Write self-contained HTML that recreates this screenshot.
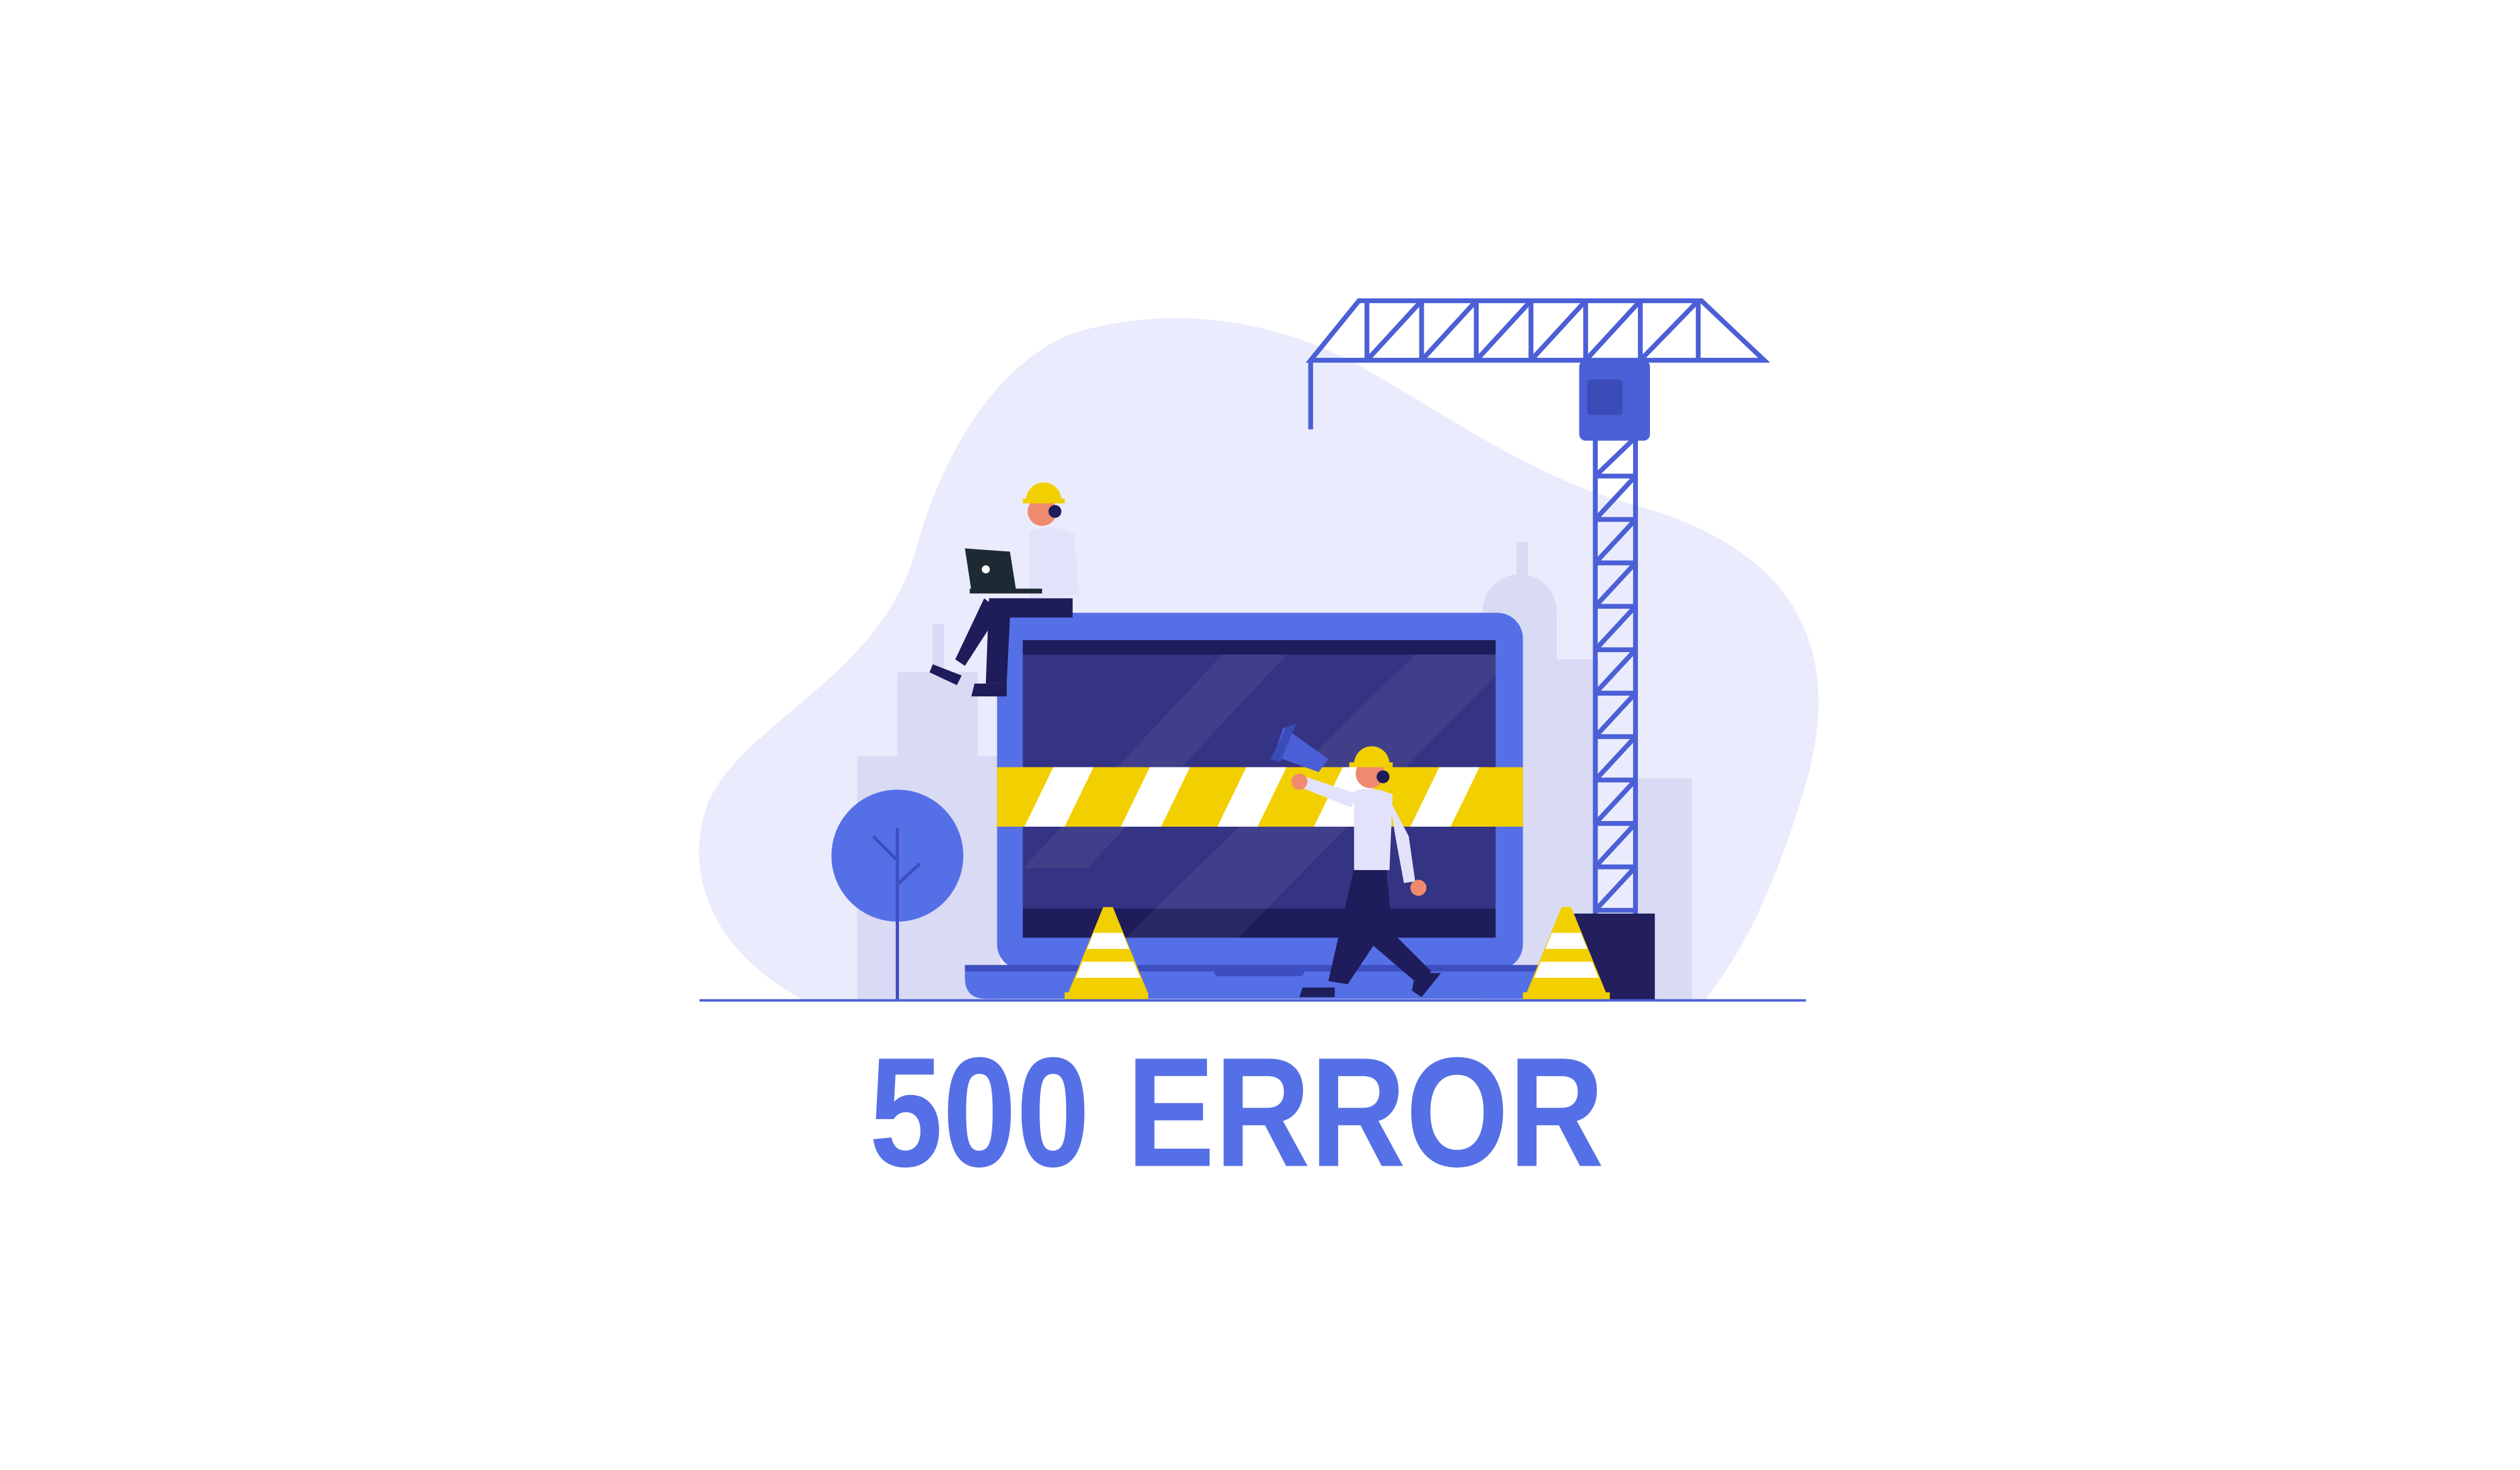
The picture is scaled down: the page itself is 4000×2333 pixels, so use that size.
<!DOCTYPE html>
<html><head><meta charset="utf-8"><style>
html,body{margin:0;padding:0;background:#fff;width:4000px;height:2333px;overflow:hidden}
svg{display:block}
</style></head><body>
<svg width="4000" height="2333" viewBox="0 0 1567 914" preserveAspectRatio="none" xmlns="http://www.w3.org/2000/svg">
<rect width="1567" height="914" fill="#fff"/>
<!-- blob -->
<path d="M500,622 C440,590 425,540 440,500 C460,450 550,420 570,340 C590,270 625,225 665,208 C720,190 790,195 850,230 C910,265 960,300 1020,315 C1090,335 1150,380 1125,480 C1105,550 1085,590 1060,622 Z" fill="#EAEBFC"/>
<!-- buildings -->
<g fill="#D9DAF4">
<rect x="533" y="470" width="30" height="152"/>
<rect x="558" y="418" width="50" height="204"/>
<rect x="580" y="388" width="7" height="32"/>
<rect x="600" y="470" width="22" height="152"/>
<path d="M922,380 a23,23 0 0 1 46,0 v242 h-46z"/>
<rect x="943" y="337" width="7" height="30"/>
<rect x="966" y="410" width="28" height="212"/>
<rect x="1018" y="484" width="34" height="138"/>
</g>
<!-- tree -->
<circle cx="558" cy="532" r="41" fill="#5570E6"/>
<g stroke="#3D4EC0" stroke-width="2" fill="none">
<line x1="558" y1="515" x2="558" y2="622"/>
<line x1="558" y1="535" x2="543" y2="520"/>
<line x1="558" y1="550" x2="572" y2="537"/>
</g>
<!-- laptop -->
<rect x="620" y="381" width="327" height="222" rx="16" fill="#5570E6"/>
<rect x="636" y="398" width="294" height="185" fill="#353383"/>
<rect x="636" y="398" width="294" height="9" fill="#1E1C5A"/>
<rect x="636" y="565" width="294" height="18" fill="#1E1C5A"/>
<g fill="#ffffff" opacity="0.06">
<polygon points="636,540 760,407 800,407 676,540"/>
<polygon points="700,583 880,407 930,407 930,420 770,583"/>
</g>
<rect x="620" y="477" width="327" height="37" fill="#F2CF00"/>
<g fill="#ffffff">
<polygon points="655,477 680,477 662,514 637,514"/>
<polygon points="715,477 740,477 722,514 697,514"/>
<polygon points="775,477 800,477 782,514 757,514"/>
<polygon points="835,477 860,477 842,514 817,514"/>
<polygon points="895,477 920,477 902,514 877,514"/>
</g>
<path d="M600,600 H963 V608 Q963,621 950,621 H613 Q600,621 600,608 Z" fill="#5570E6"/>
<path d="M600,600 H963 V604 H600 Z" fill="#3D4EC0"/>
<rect x="755" y="600" width="56" height="7" rx="3" fill="#3D4EC0"/>
<!-- crane -->
<g stroke="#4B5FD6" stroke-width="3" fill="none">
<polygon points="815,224 845,187 1058,187 1097,224"/>
<line x1="815" y1="224" x2="815" y2="267"/>
<path d="M850,187 V224 M884,187 V224 M918,187 V224 M952,187 V224 M986,187 V224 M1020,187 V224 M1056,187 V224"/>
<path d="M850,224 L884,187 M884,224 L918,187 M918,224 L952,187 M952,224 L986,187 M986,224 L1020,187 M1020,224 L1056,187"/>
<line x1="992" y1="272" x2="992" y2="570"/>
<line x1="1017" y1="272" x2="1017" y2="570"/>
<path d="M992,296 H1017 M992,323 H1017 M992,350 H1017 M992,377 H1017 M992,404 H1017 M992,431 H1017 M992,458 H1017 M992,485 H1017 M992,512 H1017 M992,539 H1017 M992,566 H1017"/>
<path d="M992,296 L1017,272 M992,323 L1017,296 M992,350 L1017,323 M992,377 L1017,350 M992,404 L1017,377 M992,431 L1017,404 M992,458 L1017,431 M992,485 L1017,458 M992,512 L1017,485 M992,539 L1017,512 M992,566 L1017,539"/>
</g>
<rect x="982" y="224" width="44" height="50" rx="4" fill="#4B5FD6"/>
<rect x="987" y="236" width="22" height="22" rx="2" fill="#3B4CB8"/>
<polygon points="978,568 1029,568 1029,622 1000,622" fill="#231E5E"/>
<!-- cones -->
<g>
<polygon points="686,564 692,564 714,618 664,618" fill="#F2CF00"/>
<polygon points="680,580 698,580 702,590 676,590" fill="#fff"/>
<polygon points="673,598 705,598 709,608 669,608" fill="#fff"/>
<rect x="662" y="617" width="52" height="5" fill="#F2CF00"/>
<polygon points="971,564 977,564 999,618 949,618" fill="#F2CF00"/>
<polygon points="965,580 983,580 987,590 961,590" fill="#fff"/>
<polygon points="958,598 990,598 994,608 954,608" fill="#fff"/>
<rect x="947" y="617" width="54" height="5" fill="#F2CF00"/>
</g>
<!-- ground -->
<line x1="435" y1="622" x2="1123" y2="622" stroke="#4B5FD6" stroke-width="1.5"/>
<!-- sitting worker -->
<g>
<path d="M612,372 L594,410 L600,414 L622,380 Z" fill="#1E1C5A"/>
<path d="M615,372 H667 V384 H628 L626,425 H613 Z" fill="#1E1C5A"/>
<path d="M580,413 L598,420 L595,426 L578,418Z" fill="#1E1C5A"/>
<path d="M606,425 H626 V433 H604 Z" fill="#1E1C5A"/>
<path d="M640,330 Q655,325 668,332 L671,370 L640,372 Z" fill="#E2E3FA"/>
<circle cx="648" cy="318" r="9" fill="#F08A6E"/>
<path d="M638,311 a11,11 0 0 1 22,0 Z" fill="#F2CF00"/>
<rect x="636" y="310" width="26" height="3" fill="#F2CF00"/>
<circle cx="656" cy="318" r="4" fill="#1E1C5A"/>
<polygon points="600,341 628,343 632,368 604,367" fill="#1E2A33"/>
<circle cx="613" cy="354" r="2.5" fill="#fff"/>
<rect x="603" y="366" width="45" height="3" fill="#1E2A33"/>
</g>
<!-- walking worker -->
<g>
<path d="M842,540 L862,540 L866,580 L890,604 L882,612 L854,588 L838,612 L826,610 Z" fill="#1E1C5A"/>
<path d="M810,614 H830 V620 H808Z" fill="#1E1C5A"/>
<path d="M880,605 L896,605 L884,620 L878,616Z" fill="#1E1C5A"/>
<path d="M842,492 Q853,488 866,494 L864,541 L842,541 Z" fill="#E2E3FA"/>
<path d="M845,494 L812,483 L810,490 L840,502Z" fill="#E2E3FA"/>
<path d="M864,497 L876,520 L880,548 L873,549 L868,522 Z" fill="#E2E3FA"/>
<circle cx="882" cy="552" r="5" fill="#F08A6E"/>
<circle cx="808" cy="486" r="5" fill="#F08A6E"/>
<circle cx="852" cy="481" r="9" fill="#F08A6E"/>
<path d="M842,475 a11,11 0 0 1 22,0 Z" fill="#F2CF00"/>
<rect x="839" y="474" width="27" height="3" fill="#F2CF00"/>
<circle cx="860" cy="483" r="4" fill="#1E1C5A"/>
<polygon points="798,452 826,472 820,480 792,470" fill="#4B5FD6"/>
<polygon points="800,452 806,450 796,474 790,472" fill="#3B4CB8"/>
</g>
<!-- title -->
<text x="769" y="725" text-anchor="middle" textLength="457" lengthAdjust="spacingAndGlyphs" font-family="Liberation Sans, sans-serif" font-weight="bold" font-size="97" fill="#5570E6">500 ERROR</text>
</svg>
</body></html>
